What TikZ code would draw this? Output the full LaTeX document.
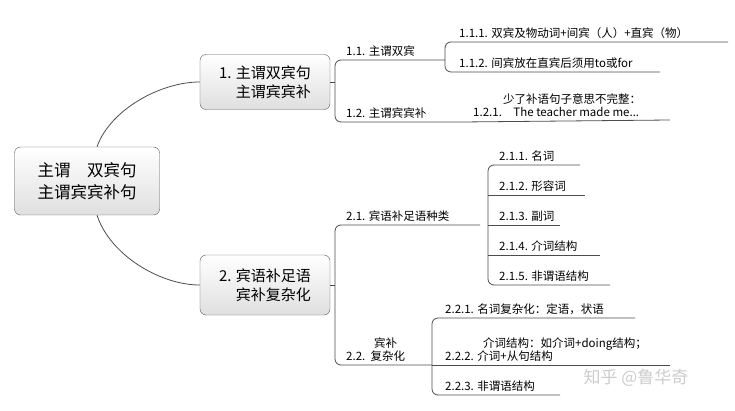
\documentclass[tikz,border=0pt]{standalone}
\usepackage{fontspec}
\setmainfont{Noto Sans CJK SC}
\usetikzlibrary{positioning,shapes.geometric}
\tikzset{
  topic/.style={rectangle, rounded corners=6pt, draw=gray!70!black, top color=white, bottom color=gray!25, align=left, inner sep=4pt},
  leaf/.style={anchor=south west, inner sep=1pt, font=\fontsize{11.5}{13}\selectfont, align=left},
  link/.style={draw=gray!60!black, line width=0.8pt},
  fork/.style={link, rounded corners=6pt},
}
\begin{document}
\begin{tikzpicture}[x=1pt,y=-1pt]
\useasboundingbox (0,0) rectangle (735,411);
%Main topics
\node[topic, minimum width=145, minimum height=68, font=\fontsize{16.5}{22}\selectfont] (root) at (87,181) {主谓\quad 双宾句\\主谓宾宾补句};
\node[topic, minimum width=130, minimum height=55, font=\fontsize{15}{19}\selectfont] (t1) at (265,82) {1. 主谓双宾句\\\phantom{1. }主谓宾宾补};
\node[topic, minimum width=130, minimum height=60, font=\fontsize{15}{19}\selectfont] (t2) at (265,285) {2. 宾语补足语\\\phantom{2. }宾补复杂化};
\draw[link] (root.north) ++(10,0) .. controls (110,110) and (160,82) .. (t1.west);
\draw[link] (root.south) ++(10,0) .. controls (110,255) and (160,285) .. (t2.west);

%Branch 1
\coordinate (f1) at (335,60); \coordinate (f2) at (335,122);
\draw[fork] (445,60) -- (f1) -- (f2) -- (462,122) -- (670,120);
\draw[link] (t1.east) -- (335,82);
\node[leaf] (b11) at (345,58) {1.1. 主谓双宾};
\node[leaf] (b12) at (345,120) {1.2. 主谓宾宾补};
\draw[fork] (728,42) -- (445,42) -- (445,72) -- (660,72);
\node[leaf] (b111) at (458,40) {1.1.1. 双宾及物动词+间宾（人）+直宾（物）};
\node[leaf] (b112) at (458,70) {1.1.2. 间宾放在直宾后须用to或for};
\node[leaf] (b121) at (472,118) {\hspace*{30pt}少了补语句子意思不完整：\\1.2.1.\quad The teacher made me...};

%Branch 2
\draw[fork] (480,225) -- (335,225) -- (335,365) -- (432,365);
\draw[link] (t2.east) -- (335,285);
\node[leaf] (b21) at (345,223) {2.1. 宾语补足语种类};
\node[leaf] (b22) at (345,363) {\hspace*{28pt}宾补\\2.2.\ \ 复杂化};
\draw[fork] (580,165) -- (488,165) -- (488,285) -- (610,285);
\draw[link] (488,195) -- (585,195);
\draw[link] (488,225) -- (560,225);
\draw[link] (488,255) -- (600,255);
\node[leaf] (b211) at (498,163) {2.1.1. 名词};
\node[leaf] (b212) at (498,193) {2.1.2. 形容词};
\node[leaf] (b213) at (498,223) {2.1.3. 副词};
\node[leaf] (b214) at (498,253) {2.1.4. 介词结构};
\node[leaf] (b215) at (498,283) {2.1.5. 非谓语结构};
\draw[fork] (635,318) -- (432,318) -- (432,395) -- (560,395);
\draw[link] (432,365) -- (670,365);
\node[leaf] (b221) at (444,316) {2.2.1. 名词复杂化：定语，状语};
\node[leaf] (b222) at (444,363) {\hspace*{38pt}介词结构：如介词+doing结构；\\2.2.2. 介词+从句结构};
\node[leaf] (b223) at (444,393) {2.2.3. 非谓语结构};

%Watermark
\node[anchor=west, text=gray!40, font=\fontsize{17}{20}\selectfont] (mark) at (580,378) {知乎 @鲁华奇};
\end{tikzpicture}
\end{document}
